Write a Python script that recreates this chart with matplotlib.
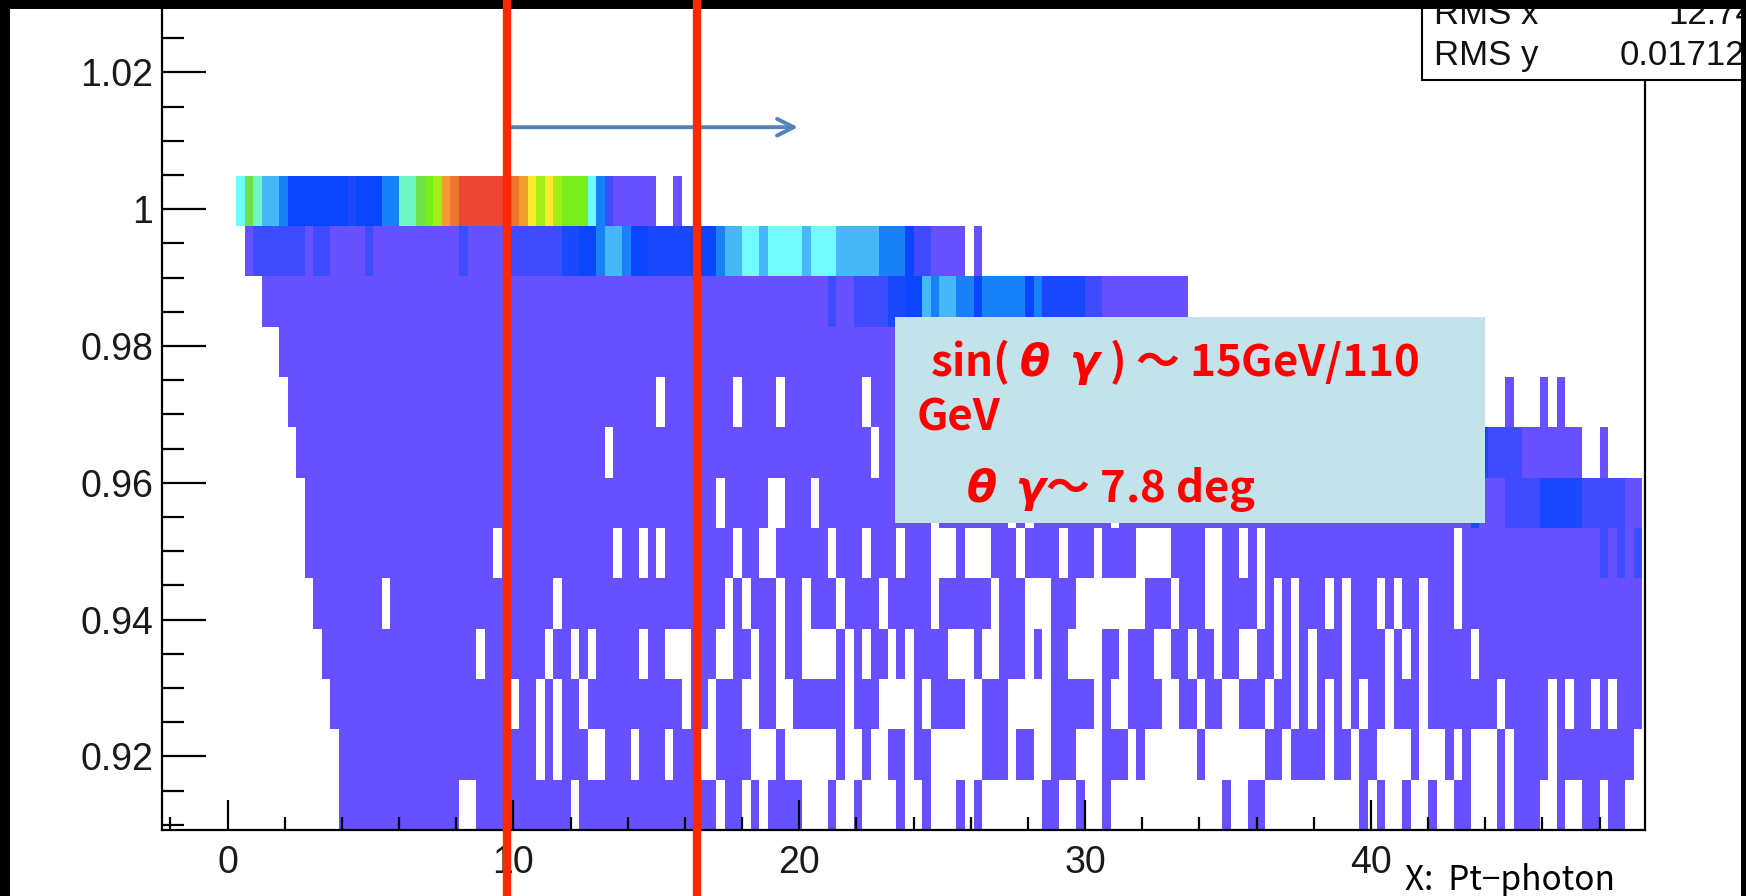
import numpy as np
import matplotlib
matplotlib.use("Agg")
import matplotlib.pyplot as plt
import matplotlib.transforms as mtransforms
from matplotlib.colors import ListedColormap, BoundaryNorm
from matplotlib.patches import Rectangle
from matplotlib.lines import Line2D

plt.rcParams["font.family"] = ["Liberation Sans", "DejaVu Sans"]
plt.rcParams["mathtext.fontset"] = "custom"
plt.rcParams["mathtext.it"] = "DejaVu Sans:italic:bold"
plt.rcParams["mathtext.rm"] = "DejaVu Sans:bold"

W, H, DPI = 1746, 896, 100

# ---------------- histogram binning ----------------
x_bin_width = 0.3
x_first_edge = 0.0
n_x_bins = 165
y_top_edge = 1.0049
y_bin_height = 0.00736

# ---------------- cell contents ----------------
# one string per y bin (top to bottom), one character per x bin (groups of 10)
# '.' = empty bin, '1'..'9','a'..'f' = colour level 1..15
row_01 = (".798665444 4444344455 889abdefff fffedcbcba aa75211111 ..1....... "
          ".......... .......... .......... .......... .......... .......... "
          ".......... .......... .......... .......... .....")
row_02 = ("..12222221 2211112111 1111111211 1112222223 3445665443 3333444566 "
          "7767777677 7666665554 221111.1.. .......... .......... .......... "
          ".......... .......... .......... .......... .....")
row_03 = ("....111111 1111111111 1111111111 1111111111 1111111111 1111111111 "
          "1111111111 2112222334 4656655455 5554533333 2211111111 11........ "
          ".......... .......... .......... .......... .....")
row_04 = ("......1111 1111111111 1111111111 1111111111 1111111111 1111111111 "
          "1111111111 1111111111 1111111111 1111111111 1111111111 11........ "
          ".......... .......... .......... .......... .....")
row_05 = (".......111 1111111111 1111111111 1111111111 1111111111 .11111111. "
          "1111.11111 1111.11111 1111111111 1111111111 1111111111 1111111111 "
          "1111111111 1111111111 111111...1 ...1.1.... .....")
row_06 = ("........11 1111111111 1111111111 1111111111 1111.11111 1111111111 "
          "1111111111 11111.1111 1111111111 1111111111 1111111111 1111111111 "
          "1111111111 1111111111 1111113222 21111111.. 1....")
row_07 = (".........1 1111111111 1111111111 1111111111 1111111111 1111111.11 "
          "111..111.1 1111111111 11.1111111 1.1.111111 111.111111 1111111111 "
          "1111111111 1111111111 1111131112 2223333322 22211")
row_08 = (".........1 1111111111 1111111111 1.11111111 11111.11.1 .11111111. "
          "11..111111 .111.111.1 11...1...1 11.1111.11 1.1111.... 1111..11.1 "
          ".111111111 1111111111 111.111111 1111111111 21212")
row_09 = (".......... 11111111.1 1111111111 11111111.1 1111111111 11111111.1 "
          ".111.11.11 1.1111.111 11.111111. 111...111. .......111 .111..1111 "
          ".1.1.111.1 .111.1.11. 111.111111 1111111111 11111")
row_10 = (".......... .111111111 111111111. 1111111.11 .1.11111.1 1...111..1 "
          "1.11.11... .1.1.11.1. 1111...1.. 111.1.11.. ..11.111.. 11.11.11.. "
          "11.1.1.111 .1111.1.1. 11111.1111 1111111111 11111")
row_11 = (".......... ..11111111 1111111111 111.11.1.1 1.11111111 111.11.111 "
          "..11..1111 11.111.... 1.1111..11 1.....1111 1.1..1111. .11.11..11 "
          "1.11.1.1.1 .1.11.111. 11111111.1 1111.1.11. 1.111")
row_12 = (".......... ...1111111 1111111111 111111.1.1 11..111.11 1.111..111 "
          "1...1..... .1..1..11. 11......11 1.11..111. ..111.1... ...1...... "
          ".11.1111.1 1.11....1. ..1.1...1. 1111.11111 1111.")
row_13 = (".......... ...1111111 1111111..1 1111111111 .111111111 1111111.11 "
          ".1.1111... 1..1....1. .1...1.1.. .....11..1 ..1....... ......1..1 "
          "1......... ..1.1..1.. 1..11...1. 111..1..11 .11..")

# palette (lowest to highest content)
level_colors = ["#6650FF", "#3F4BFF", "#1A48FF", "#0A46FF", "#1782F7",
                "#46B8F8", "#70FCFF", "#70F5C8", "#6EE14A", "#78EE1A",
                "#A4EE18", "#FFE92E", "#F59C30", "#F07530", "#EE4632"]

# x-axis / y-axis ticks
x_major_ticks = [0, 10, 20, 30, 40]
y_major_ticks = [0.92, 0.94, 0.96, 0.98, 1.00, 1.02]

# marker lines and arrow (x positions in GeV)
cut_lines_x = [9.79, 16.41]
arrow_from = (9.78, 1.012)
arrow_to = (19.96, 1.012)

# statistics box entries
stat_labels = ["RMS x", "RMS y"]
stat_values = ["12.74", "0.01712"]


def parse_row(row):
    s = "".join(row.split())
    assert len(s) == n_x_bins, len(s)
    return [np.nan if c == "." else int(c, 16) for c in s]


rows = [row_01, row_02, row_03, row_04, row_05, row_06, row_07,
        row_08, row_09, row_10, row_11, row_12, row_13]
Z = np.array([parse_row(r) for r in rows])
x_edges = x_first_edge + x_bin_width * np.arange(n_x_bins + 1)
y_edges = y_top_edge - y_bin_height * np.arange(len(rows) + 1)


def fx(px):
    return px / W


def fy(py):
    return 1.0 - py / H


fig = plt.figure(figsize=(W / DPI, H / DPI), dpi=DPI, facecolor="white")

ax_left, ax_right = 161.5, 1645.0
ax_bottom_px, ax_top_px = 829.6, -30.1
ax = fig.add_axes([fx(ax_left), fy(ax_bottom_px), (ax_right - ax_left) / W,
                   (ax_bottom_px - ax_top_px) / H])
ax.set_facecolor("white")

cmap = ListedColormap(level_colors)
cmap.set_bad((1, 1, 1, 0))
norm = BoundaryNorm(np.arange(0.5, len(level_colors) + 1.5, 1.0), cmap.N)
ax.pcolormesh(x_edges, y_edges[::-1], np.ma.masked_invalid(Z[::-1]),
              cmap=cmap, norm=norm, shading="flat", linewidth=0,
              antialiased=False)

ax.set_xlim(-2.31, 49.59)
ax.set_ylim(0.9093, 1.0348)

ax.set_xticks(x_major_ticks)
ax.set_xticks(np.arange(-2, 50, 2), minor=True)
ax.set_yticks(y_major_ticks)
ax.set_yticks(np.arange(0.91, 1.0351, 0.005), minor=True)
ax.yaxis.set_major_formatter(plt.FuncFormatter(lambda v, p: "%g" % round(v, 4)))
ax.xaxis.set_major_formatter(plt.FuncFormatter(lambda v, p: "%g" % v))

ax.tick_params(axis="y", which="major", direction="in", length=32, width=1.6,
               labelsize=27, pad=6, colors="black", labelcolor="#1a1a1a")
ax.tick_params(axis="y", which="minor", direction="in", length=15.5, width=1.6)
ax.tick_params(axis="x", which="major", direction="in", length=21.6, width=1.6,
               labelsize=27, pad=11, colors="black", labelcolor="#1a1a1a")
ax.tick_params(axis="x", which="minor", direction="in", length=9.6, width=1.6)
for sp in ax.spines.values():
    sp.set_linewidth(1.6)
    sp.set_color("black")

# vertical cut lines across the whole canvas
blend = mtransforms.blended_transform_factory(ax.transData, fig.transFigure)
for xv in cut_lines_x:
    fig.add_artist(Line2D([xv, xv], [0, 1], transform=blend, color="#FF2800",
                          lw=6.0, zorder=11, solid_capstyle="butt"))

ax.annotate("", xy=arrow_to, xytext=arrow_from,
            arrowprops=dict(arrowstyle="->", color="#5083BA", lw=2.8,
                            mutation_scale=30, shrinkA=0, shrinkB=0),
            zorder=9, annotation_clip=False)

# statistics box (top right)
fig.add_artist(Rectangle((fx(1421.7), fy(80)), 0.5, 0.5, transform=fig.transFigure,
                         facecolor="white", edgecolor="black", lw=1.5, zorder=5))
stat_kw = dict(fontsize=25, ha="left", va="baseline", zorder=6, color="#111111")
fig.text(fx(1434), fy(24), stat_labels[0], **stat_kw)
fig.text(fx(1668), fy(24), stat_values[0], **stat_kw)
fig.text(fx(1434), fy(65), stat_labels[1], **stat_kw)
fig.text(fx(1620), fy(65), stat_values[1], **stat_kw)

# annotation panel
fig.add_artist(Rectangle((fx(895), fy(522.7)), (1485 - 895) / W, (522.7 - 316.7) / H,
                         transform=fig.transFigure, facecolor="#C3E3EB",
                         edgecolor="none", zorder=6))
note_kw = dict(color="#FF0000", fontsize=31.5, fontweight="bold",
               family=["Noto Sans CJK JP"], ha="left", va="baseline", zorder=7)
fig.text(fx(930), fy(376), r"sin( $\theta$  $\gamma$ ) 〜 15GeV/110", **note_kw)
fig.text(fx(917), fy(430), "GeV", **note_kw)
fig.text(fx(966), fy(502), r"$\theta$  $\gamma$〜 7.8 deg", **note_kw)

# axis title
fig.text(fx(1405), fy(890), "X:  Pt\u2212photon", fontsize=24,
         family=["Noto Sans CJK JP", "DejaVu Sans"], ha="left", va="baseline",
         zorder=7)

# dark frame of the canvas
for x0, y0, w, h in [(0, fy(9.5), 1, 9.5 / H), (0, 0, fx(10), 1),
                     (fx(1741), 0, fx(6), 1)]:
    fig.add_artist(Rectangle((x0, y0), w, h, transform=fig.transFigure,
                             facecolor="black", edgecolor="none", zorder=10))

fig.savefig("out.png", dpi=DPI, facecolor="white")
